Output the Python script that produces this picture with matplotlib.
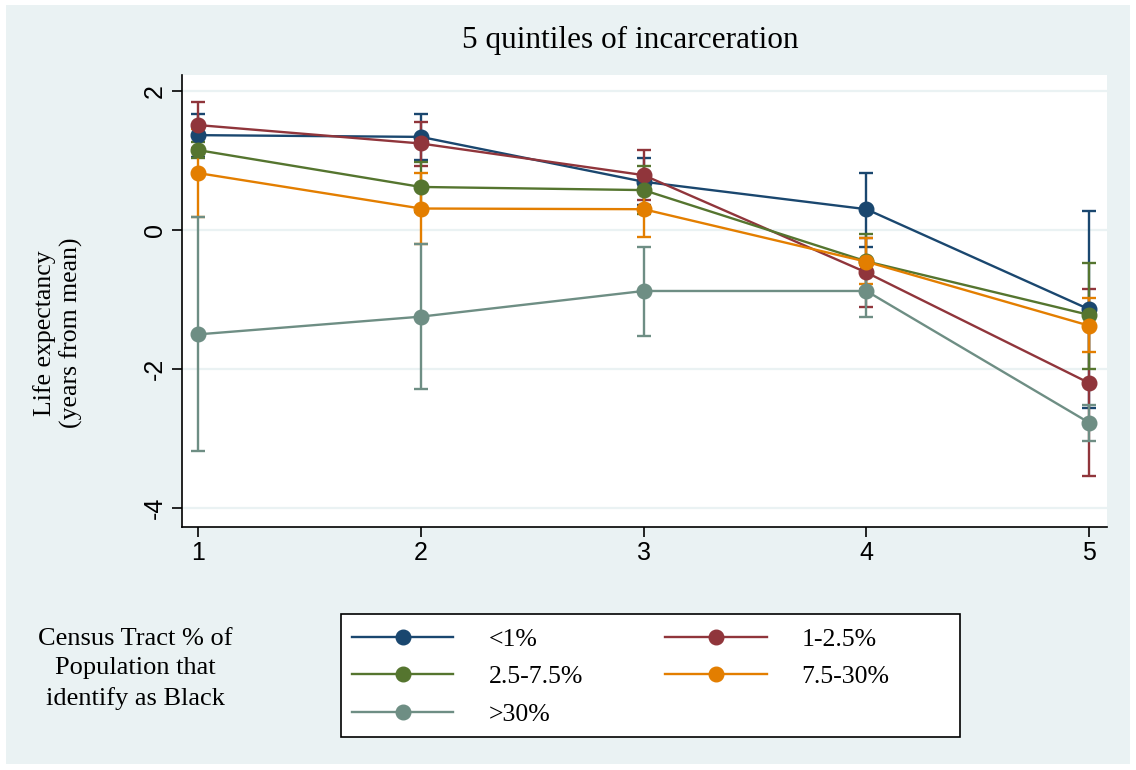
import matplotlib
matplotlib.use("Agg")
import matplotlib.pyplot as plt
from matplotlib.patches import Rectangle
from matplotlib.lines import Line2D

# quintile of incarceration
quintiles = [1, 2, 3, 4, 5]

# series: label, colour, point estimate, lower CI, upper CI
labels = ["<1%", "1-2.5%", "2.5-7.5%", "7.5-30%", ">30%"]
colors = ["#1a476f", "#90353b", "#55752f", "#e37e00", "#6e8e84"]

lt1_mean = [1.365, 1.34, 0.695, 0.30, -1.14]
lt1_lo = [1.045, 1.01, 0.36, -0.24, -2.56]
lt1_hi = [1.67, 1.67, 1.03, 0.815, 0.27]

b1_mean = [1.51, 1.245, 0.79, -0.61, -2.20]
b1_lo = [1.185, 0.92, 0.43, -1.11, -3.54]
b1_hi = [1.835, 1.56, 1.15, -0.11, -0.85]

b2_mean = [1.15, 0.62, 0.575, -0.45, -1.22]
b2_lo = [1.03, 0.26, 0.23, -0.85, -2.0]
b2_hi = [1.27, 0.98, 0.92, -0.05, -0.47]

b3_mean = [0.82, 0.31, 0.30, -0.455, -1.375]
b3_lo = [0.19, -0.20, -0.105, -0.78, -1.75]
b3_hi = [1.45, 0.815, 0.70, -0.12, -0.98]

gt30_mean = [-1.50, -1.245, -0.876, -0.876, -2.77]
gt30_lo = [-3.18, -2.28, -1.52, -1.255, -3.04]
gt30_hi = [0.19, -0.20, -0.24, -0.50, -2.51]

means = [lt1_mean, b1_mean, b2_mean, b3_mean, gt30_mean]
lows = [lt1_lo, b1_lo, b2_lo, b3_lo, gt30_lo]
highs = [lt1_hi, b1_hi, b2_hi, b3_hi, gt30_hi]

yticks = [2, 0, -2, -4]

BG = "#eaf2f3"
SERIF = "Liberation Serif"
SANS = "Liberation Sans"

fig = plt.figure(figsize=(11.36, 7.7), dpi=100)
fig.patch.set_facecolor("white")
fig.patches.append(Rectangle((6 / 1136, 1 - 764 / 770), 1124 / 1136, 759 / 770,
                             transform=fig.transFigure, facecolor=BG,
                             edgecolor="none", zorder=-10))

ax = fig.add_axes([182 / 1136, 1 - 527 / 770, 925 / 1136, 452 / 770])
ax.set_facecolor("white")

# confidence intervals first, then the lines on top
for m, lo, hi, c in zip(means, lows, highs, colors):
    err = [[mm - l for mm, l in zip(m, lo)], [h - mm for mm, h in zip(m, hi)]]
    ax.errorbar(quintiles, m, yerr=err, fmt="none", ecolor=c, elinewidth=1.7,
                capsize=4.7, capthick=1.7, zorder=2)
for m, c, lab in zip(means, colors, labels):
    ax.plot(quintiles, m, color=c, lw=1.7, marker="o", markersize=10.5,
            label=lab, zorder=3)

ax.set_xlim(0.928, 5.08)
ax.set_ylim(-4.27, 2.23)
ax.set_xticks(quintiles)
ax.set_yticks(yticks)
ax.set_yticklabels([str(t) for t in yticks], rotation=90, va="center")
for lab in ax.get_xticklabels() + ax.get_yticklabels():
    lab.set_fontfamily(SANS)
    lab.set_fontsize(18)
ax.tick_params(axis="both", direction="out", length=7, width=1.2, color="black")
ax.tick_params(axis="x", pad=3)
ax.tick_params(axis="y", pad=4)
ax.grid(axis="y", color=BG, lw=1.6, zorder=1)
ax.set_axisbelow(True)
for side in ["top", "right"]:
    ax.spines[side].set_visible(False)
for side in ["left", "bottom"]:
    ax.spines[side].set_linewidth(1.2)

fig.text(630 / 1136, 1 - 40 / 770, "5 quintiles of incarceration", ha="center",
         va="center", fontsize=22.5, fontfamily=SERIF)
fig.text(58 / 1136, 1 - 333 / 770, "Life expectancy\n(years from mean)", ha="center",
         va="center", rotation=90, fontsize=18.5, fontfamily=SERIF, linespacing=1.25)

fig.text(135 / 1136, 1 - 669 / 770, "Census Tract % of\nPopulation that\nidentify as Black",
         ha="center", va="center", fontsize=19, fontfamily=SERIF, linespacing=1.45)

# legend box drawn separately (Stata leaves extra room on the right)
fig.patches.append(Rectangle((341 / 1136, 1 - 737 / 770), 619 / 1136, 123 / 770,
                             transform=fig.transFigure, facecolor="white",
                             edgecolor="black", lw=1.2, zorder=1))

# matplotlib fills legend columns first; reorder so rows read like the reference
order = [0, 2, 4, 1, 3]
handles = [Line2D([], [], color=colors[i], lw=1.7, marker="o", markersize=10.5) for i in order]
leg = fig.legend(handles, [labels[i] for i in order], ncol=2, loc="upper left",
                 bbox_to_anchor=(352 / 1136, 1 - 628 / 770),
                 prop={"family": SERIF, "size": 18.5}, frameon=False,
                 handlelength=3.95, handletextpad=1.36, columnspacing=3.2,
                 labelspacing=0.56, borderpad=0, borderaxespad=0)
leg.set_zorder(2)

fig.savefig("out.png", dpi=100, facecolor=fig.get_facecolor())
